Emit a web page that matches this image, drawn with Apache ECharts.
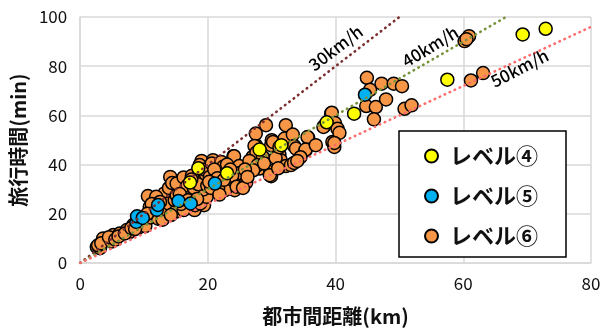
<!DOCTYPE html>
<html>
<head>
<meta charset="utf-8">
<script src="https://cdn.jsdelivr.net/npm/echarts@6/dist/echarts.min.js"></script>
<style>
  html, body { margin: 0; padding: 0; background: #fff; }
  #chart { width: 613px; height: 332px; }
</style>
</head>
<body>
<div id="chart"></div>
<script>
// 都市間距離(km) vs 旅行時間(min)

const LEVEL4 = [
  [17.2, 32.7], [18.5, 38.5], [23.0, 36.5], [28.1, 46.1], [31.5, 47.9],
  [38.6, 57.2], [42.9, 60.7], [57.5, 74.5], [69.3, 92.9], [72.9, 95.2]
];

const LEVEL5 = [
  [8.8, 16.7], [8.9, 19.0], [9.8, 18.3], [12.0, 21.6], [12.2, 23.6],
  [15.4, 25.2], [17.3, 24.2], [21.1, 32.3], [44.6, 68.4]
];

const LEVEL6 = [
  // 0-10 km
  [2.6, 6.6], [3.1, 6.0], [2.8, 7.2], [3.6, 10.0], [3.3, 8.0], [4.9, 8.7],
  [5.2, 11.4], [4.5, 10.5], [5.5, 9.5], [6.2, 12.0], [6.0, 10.8], [7.3, 13.4],
  [7.8, 12.7], [7.0, 12.0], [8.3, 15.4], [8.0, 14.2], [9.6, 15.4], [9.2, 14.5],
  [10.4, 17.4], [9.8, 16.2], [10.2, 15.0], [8.6, 13.8],
  // 10-15 km
  [10.6, 27.2], [10.9, 22.8], [11.7, 19.5], [12.7, 20.2], [13.5, 23.5], [13.7, 26.2],
  [14.5, 22.2], [15.0, 32.3], [13.2, 28.3], [11.9, 26.9], [11.0, 18.5], [11.5, 21.0],
  [12.2, 18.0], [12.9, 17.6], [13.0, 22.0], [13.8, 24.2], [14.1, 35.0], [14.6, 28.3],
  [14.9, 20.8], [14.2, 19.5], [14.8, 25.5], [15.3, 30.0], [12.5, 24.8], [11.2, 24.0],
  [10.5, 20.0], [13.9, 30.5], [14.4, 32.5], [15.1, 27.5],
  // 15-20 km
  [16.3, 33.7], [16.6, 29.6], [19.2, 29.6], [19.4, 23.5], [17.9, 21.5], [15.1, 32.3],
  [16.2, 34.8], [16.2, 26.9], [16.2, 21.5], [18.0, 23.5], [18.8, 24.2], [18.2, 28.3],
  [19.8, 26.9], [19.3, 29.9], [19.3, 33.7], [19.0, 41.5], [18.7, 39.8], [17.5, 35.5],
  [17.0, 28.5], [15.8, 24.0], [16.8, 31.5], [17.8, 30.5], [18.5, 32.0], [19.7, 36.0],
  [19.9, 31.5], [15.6, 28.0], [16.9, 25.5], [18.3, 26.0], [17.4, 33.9], [19.5, 38.0],
  // 20-25 km
  [20.8, 41.8], [20.6, 40.4], [22.1, 41.1], [22.4, 39.1], [22.1, 36.4], [23.4, 32.3],
  [24.2, 29.6], [22.7, 29.6], [21.6, 30.3], [24.0, 43.4], [24.7, 39.1], [25.1, 36.8],
  [24.7, 33.7], [24.1, 43.4], [24.9, 39.4], [25.0, 36.6], [20.3, 35.0], [21.0, 38.0],
  [21.5, 34.5], [23.0, 40.0], [23.8, 35.5], [20.5, 30.5], [21.8, 27.8], [22.5, 33.8],
  [20.2, 33.0], [23.5, 38.0], [24.5, 31.0],
  // 25-30 km
  [26.0, 32.7], [25.5, 30.5], [27.5, 47.9], [27.0, 43.1], [28.1, 41.8], [28.1, 38.4],
  [26.6, 40.4], [29.8, 37.0], [29.9, 35.3], [29.1, 56.0], [27.5, 52.6], [27.3, 47.6],
  [27.6, 44.9], [28.6, 43.1], [26.5, 41.5], [27.8, 39.8], [27.1, 37.7], [29.8, 37.4],
  [29.7, 35.7], [29.9, 47.9], [25.8, 38.0], [26.2, 35.0], [28.8, 40.5], [30.0, 49.9],
  // 30-36 km
  [32.2, 56.0], [30.2, 49.2], [32.0, 50.6], [33.3, 52.2], [35.7, 51.0], [33.5, 47.6],
  [33.8, 46.5], [35.3, 45.8], [31.2, 44.1], [31.4, 41.8], [30.6, 42.7], [32.2, 39.4],
  [33.0, 39.8], [33.5, 40.7], [35.6, 51.2], [35.3, 46.1], [34.5, 43.0], [31.0, 38.5],
  [34.0, 41.5], [31.2, 47.1],
  // 36-41 km
  [36.9, 47.9], [39.5, 49.2], [39.8, 47.2], [39.3, 60.7], [39.4, 61.1], [38.2, 55.6],
  [38.1, 55.3], [39.9, 56.9], [40.3, 54.6], [40.6, 52.9], [39.8, 48.8],
  // 44-63 km
  [44.9, 75.3], [45.4, 70.4], [47.2, 72.9], [49.1, 72.9], [50.4, 71.9], [47.9, 66.5],
  [44.8, 63.8], [46.3, 63.4], [46.0, 58.4], [50.8, 62.7], [51.9, 64.1], [60.2, 90.2],
  [60.9, 92.2], [60.5, 91.0], [61.2, 74.2], [63.1, 77.2]
];

// 速度線 (30/40/50 km/h) の端点
const LINE30 = [[0, 0], [50, 100]];
const LINE40 = [[0, 0], [66.7, 100]];
const LINE50 = [[0, 0], [80, 96]];

const LINE_LABELS = ['30km/h', '40km/h', '50km/h'];
const LABEL_AT = [[40.0, 87.4], [54.8, 88.0], [68.8, 79.2]];
const LABEL_ROTATE = [37, 31, 27];

const X_TICKS = [0, 20, 40, 60, 80];
const Y_TICKS = [0, 20, 40, 60, 80, 100];

const FONT = '"Noto Sans CJK JP", "Noto Sans", sans-serif';
const GRID_COLOR = '#d9d9d9';

function pointSeries(name, data, color) {
  return {
    name,
    type: 'scatter',
    data,
    symbol: 'circle',
    symbolSize: 13,
    z: 2,
    itemStyle: { color, borderColor: '#000', borderWidth: 1.5, opacity: 1 },
    emphasis: { disabled: true }
  };
}

function speedLine(data, color) {
  return {
    type: 'line',
    data,
    showSymbol: false,
    silent: true,
    z: 3,
    lineStyle: { color, width: 2.6, type: [0.5, 5], cap: 'round' }
  };
}

const chart = echarts.init(document.getElementById('chart'), null, { renderer: 'canvas' });

chart.setOption({
  animation: false,
  backgroundColor: '#fff',
  textStyle: { fontFamily: FONT },
  grid: { left: 76, right: 22, top: 17, bottom: 69 },
  xAxis: {
    type: 'value',
    min: X_TICKS[0],
    max: X_TICKS[X_TICKS.length - 1],
    interval: 20,
    name: '都市間距離(km)',
    nameLocation: 'middle',
    nameGap: 43,
    nameTextStyle: { fontSize: 20, fontWeight: 'bold', color: '#111', fontFamily: FONT },
    axisLine: { lineStyle: { color: GRID_COLOR, width: 1.5 } },
    axisTick: { show: false },
    axisLabel: { fontSize: 17, color: '#111', margin: 12, fontFamily: FONT },
    splitLine: { lineStyle: { color: GRID_COLOR, width: 1.5 } }
  },
  yAxis: {
    type: 'value',
    min: Y_TICKS[0],
    max: Y_TICKS[Y_TICKS.length - 1],
    interval: 20,
    name: '旅行時間(min)',
    nameLocation: 'middle',
    nameGap: 37,
    nameTextStyle: { fontSize: 20, fontWeight: 'bold', color: '#111', fontFamily: FONT },
    axisLine: { show: true, lineStyle: { color: GRID_COLOR, width: 1.5 } },
    axisTick: { show: false },
    axisLabel: { fontSize: 17, color: '#111', margin: 13, fontFamily: FONT },
    splitLine: { lineStyle: { color: GRID_COLOR, width: 1.5 } }
  },
  legend: {
    data: ['レベル④', 'レベル⑤', 'レベル⑥'],
    orient: 'vertical',
    left: 399,
    top: 131,
    padding: [14, 28, 10, 25],
    itemGap: 18,
    itemWidth: 13,
    itemHeight: 13,
    icon: 'circle',
    borderColor: '#000',
    borderWidth: 1.5,
    borderRadius: 0,
    backgroundColor: '#fff',
    selectedMode: false,
    textStyle: {
      fontSize: 22,
      lineHeight: 22,
      fontWeight: 'bold',
      color: '#111',
      fontFamily: FONT,
      padding: [0, 0, 0, 7]
    }
  },
  series: [
    pointSeries('レベル⑥', LEVEL6, '#f79646'),
    pointSeries('レベル⑤', LEVEL5, '#00b0f0'),
    pointSeries('レベル④', LEVEL4, '#ffff00'),
    speedLine(LINE30, '#7b2e2e'),
    speedLine(LINE40, '#77933c'),
    speedLine(LINE50, '#ff6b6b'),
    {
      type: 'scatter',
      silent: true,
      symbolSize: 0,
      z: 4,
      itemStyle: { opacity: 1 },
      data: LINE_LABELS.map((name, i) => ({
        name,
        value: LABEL_AT[i],
        label: { rotate: LABEL_ROTATE[i] }
      })),
      label: {
        show: true,
        position: 'inside',
        formatter: '{b}',
        fontSize: 17,
        fontWeight: 500,
        color: '#000',
        fontFamily: FONT
      }
    }
  ]
});
</script>
</body>
</html>
